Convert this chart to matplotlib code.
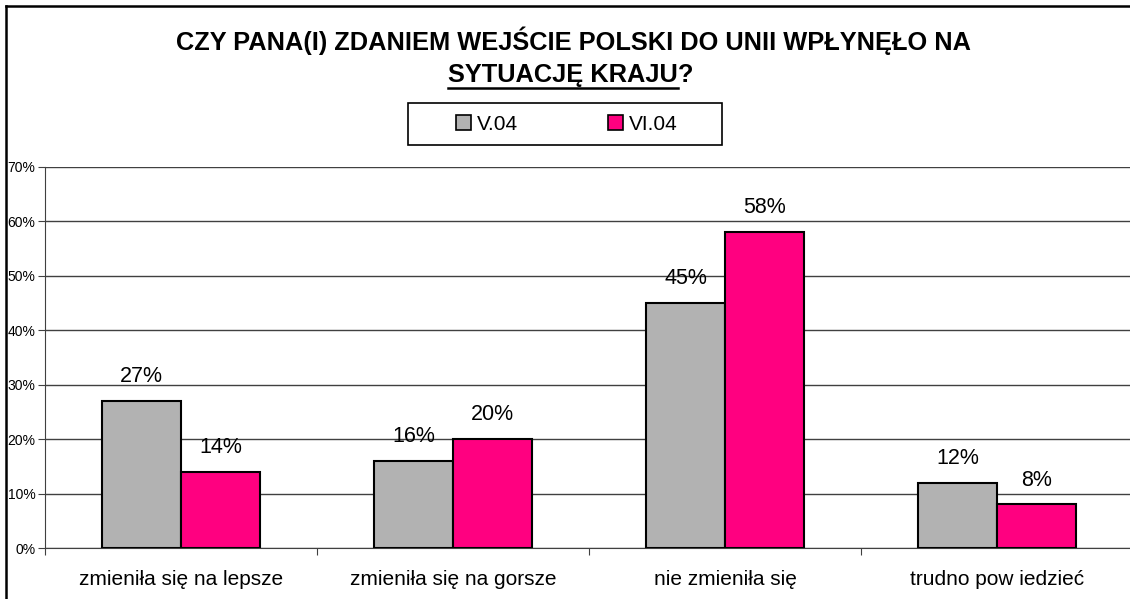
import numpy as np
import matplotlib.pyplot as plt
from matplotlib.patches import Patch, Rectangle
from matplotlib.lines import Line2D

plt.rcParams['font.family'] = ['Liberation Sans', 'DejaVu Sans']

categories = ['zmieniła się na lepsze', 'zmieniła się na gorsze', 'nie zmieniła się', 'trudno pow iedzieć']
series_names = ['V.04', 'VI.04']
v04 = [27, 16, 45, 12]
vi04 = [14, 20, 58, 8]
colors = ['#B2B2B2', '#FF0080']

W, H = 1130, 599
fig = plt.figure(figsize=(W / 100, H / 100), dpi=100)
ax = fig.add_axes([45 / W, 1 - 548 / H, 1088 / W, (548 - 167) / H])

x = np.arange(len(categories))
bw = 0.29
for vals, off, col in [(v04, -bw / 2, colors[0]), (vi04, bw / 2, colors[1])]:
    bars = ax.bar(x + off, vals, bw, color=col, edgecolor='black', linewidth=1.5, zorder=3)
    for b, v in zip(bars, vals):
        ax.annotate(f'{v}%', (b.get_x() + b.get_width() / 2, v), xytext=(0, 10),
                    textcoords='offset points', ha='center', va='bottom', fontsize=15.5)

ax.set_xlim(-0.5, 3.5)
ax.set_ylim(0, 70)
ax.set_yticks(np.arange(0, 71, 10))
ax.set_yticklabels([f'{t}%' for t in range(0, 71, 10)], fontsize=10)
ax.yaxis.grid(True, color='#404040', linewidth=1, zorder=0)
ax.set_xticks(np.arange(-0.5, 3.6, 1))
ax.set_xticklabels([])
ax.set_xticks(x, minor=True)
ax.set_xticklabels(categories, minor=True, fontsize=15)
ax.tick_params(axis='x', which='minor', length=0, pad=15.5)
ax.tick_params(axis='x', which='major', length=5, color='#404040')
ax.tick_params(axis='y', length=5, color='#404040', pad=2)
for s in ['top', 'right']:
    ax.spines[s].set_visible(False)
ax.spines['left'].set_color('#404040')
ax.spines['bottom'].set_color('#404040')

# outer frame (left and top only visible)
fig.add_artist(Line2D([6 / W, 6 / W], [0, 1 - 6 / H], transform=fig.transFigure, color='black', lw=1.8))
fig.add_artist(Line2D([6 / W, 1.01], [1 - 6 / H, 1 - 6 / H], transform=fig.transFigure, color='black', lw=1.8))

# title
fig.text(573 / W, 1 - 41 / H, 'CZY PANA(I) ZDANIEM WEJŚCIE POLSKI DO UNII WPŁYNĘŁO NA',
         ha='center', va='center', fontsize=18.3, fontweight='bold')
t1 = fig.text(678 / W, 1 - 75 / H, 'SYTUACJĘ KRAJU', ha='right', va='center',
              fontsize=18.3, fontweight='bold')
fig.text(678 / W, 1 - 75 / H, '?', ha='left', va='center', fontsize=18.3, fontweight='bold')
fig.canvas.draw()
bb = t1.get_window_extent()
fig.add_artist(Line2D([bb.x0 / W, bb.x1 / W], [(H - 88) / H] * 2, transform=fig.transFigure,
                      color='black', lw=1.8))

# legend
fig.add_artist(Rectangle((408 / W, 1 - 145 / H), 314 / W, 42 / H, transform=fig.transFigure,
                         facecolor='white', edgecolor='black', linewidth=1.2))
handles = [Patch(facecolor=c, edgecolor='black', linewidth=1.2) for c in colors]
leg = fig.legend(handles, series_names, loc='center', bbox_to_anchor=(567 / W, 1 - 124 / H),
                 ncol=2, fontsize=15, frameon=False,
                 handlelength=0.7, handleheight=0.7, handletextpad=0.3, columnspacing=4.3,
                 borderpad=0, borderaxespad=0)

fig.savefig('out.png', dpi=100)
